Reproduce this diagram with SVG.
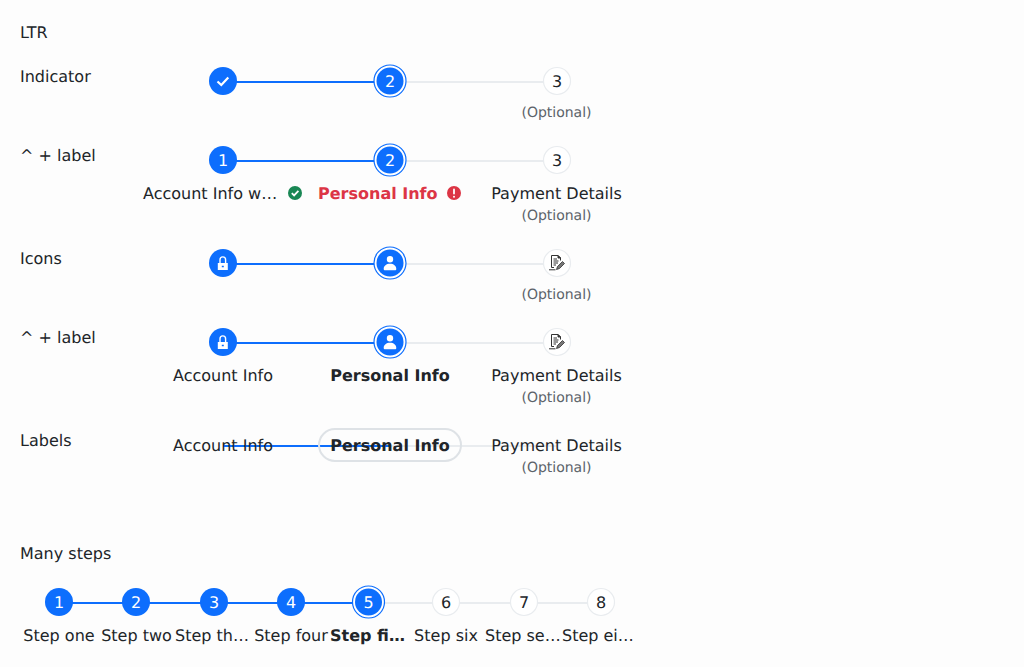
<svg xmlns="http://www.w3.org/2000/svg" width="1024" height="667" viewBox="0 0 1024 667">
<style>
text{font-family:"DejaVu Sans",sans-serif;font-size:16px;fill:#212529;text-rendering:geometricPrecision}
.m{text-anchor:middle}
.b{font-weight:700}
.o{font-size:14px;fill:#5c636a;text-anchor:middle}
.w{fill:#fff;text-anchor:middle}
.f{fill:#0d6efd}
.e{fill:#fff;stroke:#e9ecef;stroke-width:1.200}
.r{fill:#fff;stroke:#0d6efd;stroke-width:1.200}
.on{stroke:#0d6efd;stroke-width:2;fill:none}
.off{stroke:#e9ecef;stroke-width:2;fill:none}
</style>
<defs>
<g id="d"><circle r="14" class="f"/></g>
<g id="a"><circle r="16" class="r"/><circle r="13.500" class="f"/></g>
<g id="u"><circle r="13.500" class="e"/></g>
<path id="lock" fill="#fff" fill-rule="evenodd" d="M-5.200 0h10v7h-10zM-3.700 0v-3.300a3.500 3.500 0 0 1 7 0V0h-1.400v-3.300a2.100 2.100 0 0 0-4.200 0V0zM-1.200 2.800v1.500h2v-1.500z"/>
<path id="person" fill="#fff" d="M0-6.900a3.200 3.200 0 1 1 0 6.400a3.200 3.200 0 0 1 0-6.400zM-6.300 6c0-3.200 2.700-5.200 6.300-5.200s6.300 2 6.300 5.200q0 1.300-1 1.300h-10.600q-1 0-1-1.300z"/>
<g id="note" fill="none" stroke="#333" stroke-width="1"><path d="M-3 4.500H-5.500V-7.500H1L3.500-5V-2.500" /><path d="M1-7.500L3.500-5H1Z" fill="#333"/><path d="M-3.500-4H0M-3.500-2H1.500M-3.500 0H1M-3.500 2H-1M-8 6.800H-1.500"/><path d="M-.5 6.500L.5 3.500L5.500-1.500L7.500.5L2.500 5.500Z" fill="#777" stroke-width=".8"/></g>
</defs>
<rect width="1024" height="667" fill="#fdfdfd"/>

<g id="titles">
<text x="20" y="38">LTR</text>
<text x="20" y="82">Indicator</text>
<text x="20" y="161">^ + label</text>
<text x="20" y="264">Icons</text>
<text x="20" y="343">^ + label</text>
<text x="20" y="446">Labels</text>
<text x="20" y="559">Many steps</text>
</g>

<g id="connectors">
<path class="on" d="M223 82H390M223 161H390M223 264H390M223 343H390M223 446H390"/>
<path class="off" d="M390 82H557M390 161H557M390 264H557M390 343H557M390 446H557"/>
<path class="on" d="M59 603H368.500"/>
<path class="off" d="M368.500 603H601"/>
</g>

<g id="row1-step1"><use href="#d" x="223" y="81"/><path d="M217.500 81.500l3.800 3.500 7-7.500" fill="none" stroke="#fff" stroke-width="2.200"/></g>
<g id="row1-step2"><use href="#a" x="390" y="81"/><text class="w" x="390" y="87">2</text></g>
<g id="row1-step3"><use href="#u" x="557" y="81"/><text class="m" x="557" y="87">3</text><text class="o" x="556.500" y="117">(Optional)</text></g>

<g id="row2-step1"><use href="#d" x="223" y="160"/><text class="w" x="223" y="166">1</text><text x="143" y="199">Account Info w…</text><circle cx="295" cy="193" r="7" fill="#198754"/><path d="M291.800 193.200l2.300 2.200 4.300-4.500" fill="none" stroke="#fff" stroke-width="1.800"/></g>
<g id="row2-step2"><use href="#a" x="390" y="160"/><text class="w" x="390" y="166">2</text><text class="b" x="318" y="199" style="fill:#dc3545">Personal Info</text><circle cx="454" cy="193" r="7" fill="#dc3545"/><path d="M454 189.500v4" stroke="#fff" stroke-width="1.800" stroke-linecap="round"/><circle cx="454" cy="196.800" r="1" fill="#fff"/></g>
<g id="row2-step3"><use href="#u" x="557" y="160"/><text class="m" x="557" y="166">3</text><text class="m" x="556.500" y="199">Payment Details</text><text class="o" x="556.500" y="220">(Optional)</text></g>

<g id="row3-step1"><use href="#d" x="223" y="263"/><use href="#lock" x="223" y="263"/></g>
<g id="row3-step2"><use href="#a" x="390" y="263"/><use href="#person" x="390" y="263"/></g>
<g id="row3-step3"><use href="#u" x="557" y="263"/><use href="#note" x="557" y="263"/><text class="o" x="556.500" y="299">(Optional)</text></g>

<g id="row4-step1"><use href="#d" x="223" y="342"/><use href="#lock" x="223" y="342"/><text class="m" x="223" y="381">Account Info</text></g>
<g id="row4-step2"><use href="#a" x="390" y="342"/><use href="#person" x="390" y="342"/><text class="m b" x="390" y="381">Personal Info</text></g>
<g id="row4-step3"><use href="#u" x="557" y="342"/><use href="#note" x="557" y="342"/><text class="m" x="556.500" y="381">Payment Details</text><text class="o" x="556.500" y="402">(Optional)</text></g>

<g id="row5-step1"><text class="m" x="223" y="451">Account Info</text></g>
<g id="row5-step2"><rect x="319" y="429" width="142" height="32" rx="16" fill="none" stroke="#dee2e6" stroke-width="2"/><text class="m b" x="390" y="451">Personal Info</text></g>
<g id="row5-step3"><text class="m" x="556.500" y="451">Payment Details</text><text class="o" x="556.500" y="472">(Optional)</text></g>

<g id="many-1"><use href="#d" x="59" y="602"/><text class="w" x="59" y="608">1</text><text class="m" x="59" y="641">Step one</text></g>
<g id="many-2"><use href="#d" x="136" y="602"/><text class="w" x="136" y="608">2</text><text class="m" x="136.500" y="641">Step two</text></g>
<g id="many-3"><use href="#d" x="214" y="602"/><text class="w" x="214" y="608">3</text><text x="175" y="641">Step th…</text></g>
<g id="many-4"><use href="#d" x="291" y="602"/><text class="w" x="291" y="608">4</text><text class="m" x="291" y="641">Step four</text></g>
<g id="many-5"><use href="#a" x="368.500" y="602"/><text class="w" x="368.500" y="608">5</text><text class="b" x="330" y="641">Step fi…</text></g>
<g id="many-6"><use href="#u" x="446" y="602"/><text class="m" x="446" y="608">6</text><text class="m" x="446" y="641">Step six</text></g>
<g id="many-7"><use href="#u" x="524" y="602"/><text class="m" x="524" y="608">7</text><text x="485" y="641">Step se…</text></g>
<g id="many-8"><use href="#u" x="601" y="602"/><text class="m" x="601" y="608">8</text><text x="562" y="641">Step ei…</text></g>
</svg>
